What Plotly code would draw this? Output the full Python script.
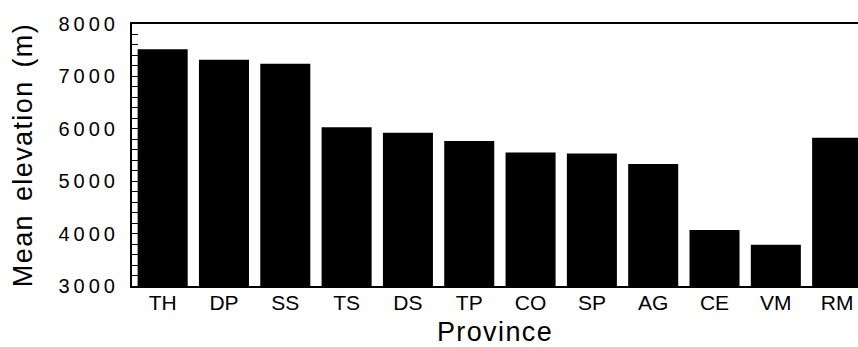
import plotly.graph_objects as go

provinces = ["TH", "DP", "SS", "TS", "DS", "TP", "CO", "SP", "AG", "CE", "VM", "RM"]
tick_labels = ["TH", "DP", "SS", "TS", "DS", "TP", "CO", "SP", "AG", "CE", "VM", "RM"]
mean_elevation = [7520, 7320, 7240, 6030, 5925, 5765, 5550, 5530, 5330, 4070, 3785, 5830]
y_ticks = [3000, 4000, 5000, 6000, 7000, 8000]

FONT = "Liberation Sans, Arial, Helvetica, sans-serif"

fig = go.Figure()
fig.add_trace(go.Bar(
    x=provinces,
    y=mean_elevation,
    marker=dict(color="black", line=dict(width=0)),
    showlegend=False,
))

fig.update_layout(
    width=858, height=347,
    margin=dict(l=132, r=0, t=24, b=61),
    paper_bgcolor="white", plot_bgcolor="white",
    bargap=0.184,
    font=dict(family=FONT, color="black"),
)
fig.update_xaxes(
    type="category",
    range=[-0.5, 11.34],
    tickvals=provinces, ticktext=tick_labels,
    tickfont=dict(size=21, family=FONT),
    ticks="", showgrid=False, zeroline=False,
    showline=True, linecolor="black", linewidth=2, mirror=True,
    automargin=False,
    ticklabelstandoff=-3,
    title=dict(text="Province", font=dict(size=27, family=FONT), standoff=11),
)
fig.update_yaxes(
    range=[3000, 8000],
    tickvals=y_ticks,
    tickfont=dict(size=20, family=FONT),
    ticks="inside", ticklen=6, tickwidth=1, tickcolor="black",
    minor=dict(ticks="inside", dtick=200, ticklen=6, tickwidth=1, tickcolor="black"),
    showgrid=False, zeroline=False,
    showline=True, linecolor="black", linewidth=2,
    automargin=False,
    ticklabelstandoff=7,
    title=dict(text="Mean elevation (m)", font=dict(size=27, family=FONT), standoff=34),
)

post = """
document.body.style.margin='0';
document.documentElement.style.margin='0';
var s=document.createElement('style');
s.textContent='body{margin:0;} .ytick text{letter-spacing:4px;} .g-xtitle text, .g-ytitle text{letter-spacing:1.4px; word-spacing:4px;}';
document.head.appendChild(s);
"""
fig.write_html("out.html", post_script=post, config={"displayModeBar": False})
